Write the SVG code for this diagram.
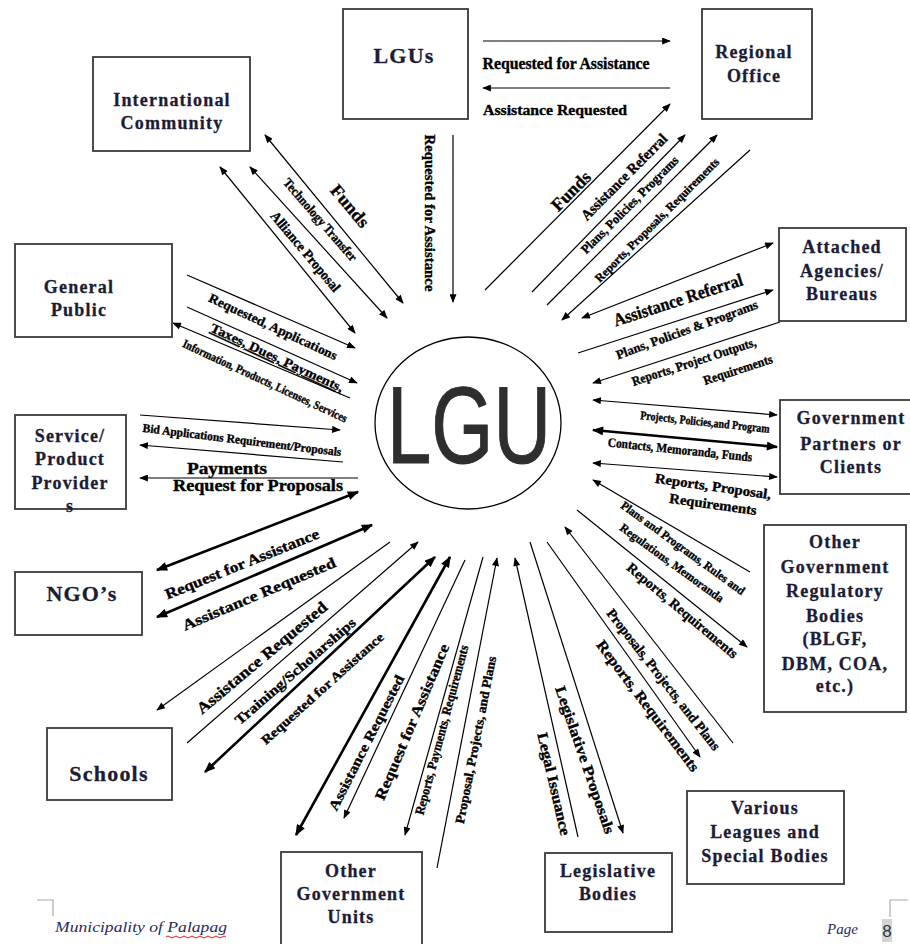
<svg xmlns="http://www.w3.org/2000/svg" width="910" height="944" viewBox="0 0 910 944">
<style>
.box{fill:#fff;stroke:#3a3a3a;stroke-width:1.8}
.bt{font-family:"Liberation Serif",serif;font-weight:bold;font-size:18px;fill:#1c1c36;stroke:#1c1c36;stroke-width:0.3;text-anchor:middle;letter-spacing:1.2px}
.big{font-size:22px}
.ln{stroke:#000;stroke-width:1.2;fill:none}
.tk{stroke:#000;stroke-width:2.6;fill:none}
.lb{font-family:"Liberation Serif",serif;font-weight:bold;fill:#000;stroke:#000;stroke-width:0.35;text-anchor:middle}
.ft{font-family:"Liberation Serif",serif;font-style:italic;fill:#2a2a5c}
</style>
<defs>
<marker id="a" viewBox="0 0 10 8" refX="9" refY="4" markerWidth="10" markerHeight="7" markerUnits="userSpaceOnUse" orient="auto-start-reverse"><path d="M0,0L10,4L0,8z" fill="#000"/></marker>
<marker id="b" viewBox="0 0 10 8" refX="9" refY="4" markerWidth="12" markerHeight="9" markerUnits="userSpaceOnUse" orient="auto-start-reverse"><path d="M0,0L10,4L0,8z" fill="#000"/></marker>
</defs>
<rect width="910" height="944" fill="#fff"/>

<g id="connectors">
<line class="ln" x1="483" y1="41" x2="670" y2="41" marker-end="url(#a)"/>
<line class="ln" x1="670" y1="88" x2="483" y2="88" marker-end="url(#a)"/>
<line class="ln" x1="453" y1="135" x2="453" y2="302" marker-end="url(#a)"/>
<line class="ln" x1="265" y1="135" x2="403" y2="303" marker-start="url(#a)" marker-end="url(#a)"/>
<line class="ln" x1="250" y1="167" x2="387" y2="318" marker-start="url(#a)" marker-end="url(#a)"/>
<line class="ln" x1="220" y1="167" x2="355" y2="333" marker-start="url(#a)" marker-end="url(#a)"/>
<line class="ln" x1="187" y1="275" x2="355" y2="348" marker-end="url(#a)"/>
<line class="ln" x1="187" y1="307" x2="357" y2="383" marker-end="url(#a)"/>
<line class="ln" x1="350" y1="398" x2="173" y2="323" marker-end="url(#a)"/>
<line class="ln" x1="140" y1="415" x2="340" y2="430" marker-end="url(#a)"/>
<line class="ln" x1="343" y1="462" x2="140" y2="445" marker-end="url(#a)"/>
<line class="ln" x1="358" y1="478" x2="140" y2="478" marker-end="url(#a)" stroke-width="1.6"/>
<line class="tk" x1="157" y1="570" x2="358" y2="492" marker-start="url(#b)" marker-end="url(#b)"/>
<line class="tk" x1="157" y1="617" x2="372" y2="525" marker-start="url(#b)" marker-end="url(#b)"/>
<line class="ln" x1="390" y1="542" x2="157" y2="710" marker-end="url(#a)"/>
<line class="ln" x1="187" y1="743" x2="418" y2="542" marker-end="url(#a)"/>
<line class="tk" x1="205" y1="772" x2="435" y2="557" marker-start="url(#b)" marker-end="url(#b)"/>
<line class="tk" x1="450" y1="557" x2="296" y2="835" marker-start="url(#b)" marker-end="url(#b)"/>
<line class="ln" x1="465" y1="560" x2="344" y2="818" marker-end="url(#a)"/>
<line class="ln" x1="483" y1="557" x2="405" y2="835" marker-end="url(#a)"/>
<line class="ln" x1="437" y1="868" x2="497" y2="558" marker-end="url(#a)"/>
<line class="ln" x1="578" y1="837" x2="515" y2="558" marker-end="url(#a)"/>
<line class="ln" x1="530" y1="542" x2="623" y2="833" marker-end="url(#a)"/>
<line class="ln" x1="547" y1="542" x2="700" y2="757" marker-end="url(#a)"/>
<line class="ln" x1="733" y1="743" x2="565" y2="527" marker-end="url(#a)"/>
<line class="ln" x1="577" y1="510" x2="747" y2="647" marker-end="url(#a)"/>
<line class="ln" x1="750" y1="572" x2="593" y2="480" marker-end="url(#a)"/>
<line class="ln" x1="593" y1="463" x2="777" y2="477" marker-start="url(#a)" marker-end="url(#a)"/>
<line class="tk" x1="593" y1="430" x2="777" y2="447" marker-start="url(#b)" marker-end="url(#b)"/>
<line class="ln" x1="593" y1="400" x2="777" y2="415" marker-start="url(#a)" marker-end="url(#a)"/>
<line class="ln" x1="780" y1="322" x2="593" y2="383" marker-end="url(#a)"/>
<line class="ln" x1="578" y1="353" x2="773" y2="290" marker-end="url(#a)"/>
<line class="ln" x1="582" y1="318" x2="773" y2="243" marker-start="url(#a)" marker-end="url(#a)"/>
<line class="ln" x1="750" y1="150" x2="562" y2="320" marker-end="url(#a)"/>
<line class="ln" x1="547" y1="305" x2="717" y2="135" marker-end="url(#a)"/>
<line class="ln" x1="532" y1="292" x2="685" y2="135" marker-end="url(#a)"/>
<line class="ln" x1="485" y1="290" x2="670" y2="104" marker-end="url(#a)"/>
</g>

<g id="connector-labels">
<text class="lb" x="566" y="69" font-size="16" textLength="167" lengthAdjust="spacingAndGlyphs">Requested for Assistance</text>
<text class="lb" x="555" y="115" font-size="15" textLength="144" lengthAdjust="spacingAndGlyphs">Assistance Requested</text>
<text class="lb" transform="translate(430 213) rotate(90)" y="5" font-size="15" textLength="157" lengthAdjust="spacingAndGlyphs">Requested for Assistance</text>
<text class="lb" transform="translate(350 206) rotate(50)" y="6" font-size="18" textLength="50" lengthAdjust="spacingAndGlyphs">Funds</text>
<text class="lb" transform="translate(320 220) rotate(49)" y="4" font-size="13" textLength="105" lengthAdjust="spacingAndGlyphs">Technology Transfer</text>
<text class="lb" transform="translate(305 252) rotate(50)" y="4" font-size="14" textLength="100" lengthAdjust="spacingAndGlyphs">Alliance Proposal</text>
<text class="lb" transform="translate(273 327) rotate(25)" y="4" font-size="13" textLength="140" lengthAdjust="spacingAndGlyphs">Requested, Applications</text>
<text class="lb" transform="translate(277 358) rotate(25)" y="4" font-size="13" textLength="145" lengthAdjust="spacingAndGlyphs" text-decoration="underline">Taxes, Dues, Payments,</text>
<text class="lb" transform="translate(265 381) rotate(25)" y="4" font-size="12" textLength="180" lengthAdjust="spacingAndGlyphs">Information, Products, Licenses, Services</text>
<text class="lb" transform="translate(242 440) rotate(7)" y="4" font-size="12" textLength="200" lengthAdjust="spacingAndGlyphs">Bid Applications Requirement/Proposals</text>
<text class="lb" x="227" y="474" font-size="16" textLength="80" lengthAdjust="spacingAndGlyphs">Payments</text>
<text class="lb" x="258" y="491" font-size="16" textLength="170" lengthAdjust="spacingAndGlyphs">Request for Proposals</text>
<text class="lb" transform="translate(242 564) rotate(-22)" y="5" font-size="15" textLength="165" lengthAdjust="spacingAndGlyphs">Request for Assistance</text>
<text class="lb" transform="translate(259 594) rotate(-23)" y="5" font-size="15" textLength="165" lengthAdjust="spacingAndGlyphs">Assistance Requested</text>
<text class="lb" transform="translate(262 658) rotate(-40)" y="5" font-size="16" textLength="165" lengthAdjust="spacingAndGlyphs">Assistance Requested</text>
<text class="lb" transform="translate(295 671) rotate(-41)" y="5" font-size="14" textLength="155" lengthAdjust="spacingAndGlyphs">Training/Scholarships</text>
<text class="lb" transform="translate(322 688) rotate(-42)" y="5" font-size="13" textLength="160" lengthAdjust="spacingAndGlyphs">Requested for Assistance</text>
<text class="lb" transform="translate(367 743) rotate(-63)" y="4" font-size="14" textLength="150" lengthAdjust="spacingAndGlyphs">Assistance Requested</text>
<text class="lb" transform="translate(412 722) rotate(-67)" y="5" font-size="15" textLength="168" lengthAdjust="spacingAndGlyphs">Request for Assistance</text>
<text class="lb" transform="translate(442 730) rotate(-75)" y="4" font-size="13" textLength="175" lengthAdjust="spacingAndGlyphs">Reports, Payments, Requirements</text>
<text class="lb" transform="translate(476 740) rotate(-79)" y="4" font-size="13" textLength="170" lengthAdjust="spacingAndGlyphs">Proposal, Projects, and Plans</text>
<text class="lb" transform="translate(554 784) rotate(77)" y="5" font-size="15" textLength="105" lengthAdjust="spacingAndGlyphs">Legal Issuance</text>
<text class="lb" transform="translate(585 760) rotate(71)" y="5" font-size="15" textLength="155" lengthAdjust="spacingAndGlyphs">Legislative Proposals</text>
<text class="lb" transform="translate(663 680) rotate(52)" y="4" font-size="14" textLength="175" lengthAdjust="spacingAndGlyphs">Proposals, Projects, and Plans</text>
<text class="lb" transform="translate(648 706) rotate(53)" y="5" font-size="15" textLength="160" lengthAdjust="spacingAndGlyphs">Reports, Requirements</text>
<text class="lb" transform="translate(683 548) rotate(36)" y="4" font-size="12" textLength="150" lengthAdjust="spacingAndGlyphs">Plans and Programs, Rules and</text>
<text class="lb" transform="translate(672 563) rotate(36)" y="4" font-size="12" textLength="125" lengthAdjust="spacingAndGlyphs">Regulations, Memoranda</text>
<text class="lb" transform="translate(682 611) rotate(40)" y="4" font-size="14" textLength="140" lengthAdjust="spacingAndGlyphs">Reports, Requirements</text>
<text class="lb" transform="translate(705 422) rotate(6)" y="4" font-size="12" textLength="130" lengthAdjust="spacingAndGlyphs">Projects, Policies,and Program</text>
<text class="lb" transform="translate(680 450) rotate(6)" y="4" font-size="13" textLength="145" lengthAdjust="spacingAndGlyphs">Contacts, Memoranda, Funds</text>
<text class="lb" transform="translate(713 487) rotate(8)" y="4" font-size="14" textLength="117" lengthAdjust="spacingAndGlyphs">Reports, Proposal,</text>
<text class="lb" transform="translate(713 505) rotate(8)" y="4" font-size="14" textLength="88" lengthAdjust="spacingAndGlyphs">Requirements</text>
<text class="lb" transform="translate(678 300) rotate(-18)" y="6" font-size="18" textLength="135" lengthAdjust="spacingAndGlyphs">Assistance Referral</text>
<text class="lb" transform="translate(687 330) rotate(-20)" y="4" font-size="13" textLength="150" lengthAdjust="spacingAndGlyphs">Plans, Policies &amp; Programs</text>
<text class="lb" transform="translate(694 362) rotate(-18)" y="4" font-size="13" textLength="130" lengthAdjust="spacingAndGlyphs">Reports, Project Outputs,</text>
<text class="lb" transform="translate(738 370) rotate(-18)" y="4" font-size="13" textLength="72" lengthAdjust="spacingAndGlyphs">Requirements</text>
<text class="lb" transform="translate(571 191) rotate(-45)" y="6" font-size="18" textLength="48" lengthAdjust="spacingAndGlyphs">Funds</text>
<text class="lb" transform="translate(624 177) rotate(-45)" y="5" font-size="15" textLength="115" lengthAdjust="spacingAndGlyphs">Assistance Referral</text>
<text class="lb" transform="translate(630 205) rotate(-45)" y="4" font-size="13" textLength="132" lengthAdjust="spacingAndGlyphs">Plans, Policies, Programs</text>
<text class="lb" transform="translate(657 220) rotate(-45)" y="4" font-size="12" textLength="170" lengthAdjust="spacingAndGlyphs">Reports, Proposals, Requirements</text>
</g>

<g id="node-lgu">
<ellipse cx="468" cy="423" rx="93" ry="86" fill="#fff" stroke="#000" stroke-width="1.3"/>
<text x="469" y="463" font-family="Liberation Sans, sans-serif" font-size="109" fill="#2e2e2e" stroke="#2e2e2e" stroke-width="1" text-anchor="middle" textLength="164" lengthAdjust="spacingAndGlyphs">LGU</text>
</g>
<g id="node-lgus"><rect class="box" x="343" y="9" width="125" height="110"/><text class="bt big" x="404" y="63">LGUs</text></g>
<g id="node-regional"><rect class="box" x="702" y="9" width="110" height="110"/><text class="bt" x="754" y="58">Regional</text><text class="bt" x="754" y="82">Office</text></g>
<g id="node-intl"><rect class="box" x="93" y="57" width="157" height="94"/><text class="bt" x="172" y="106">International</text><text class="bt" x="172" y="129">Community</text></g>
<g id="node-public"><rect class="box" x="15" y="244" width="157" height="93"/><text class="bt" x="79" y="293">General</text><text class="bt" x="79" y="316">Public</text></g>
<g id="node-providers"><rect class="box" x="15" y="415" width="111" height="94"/><text class="bt" x="70" y="442">Service/</text><text class="bt" x="70" y="465">Product</text><text class="bt" x="70" y="489">Provider</text><text class="bt" x="70" y="512">s</text></g>
<g id="node-ngo"><rect class="box" x="15" y="572" width="127" height="63"/><text class="bt big" x="82" y="601">NGO’s</text></g>
<g id="node-schools"><rect class="box" x="47" y="728" width="125" height="72"/><text class="bt big" x="109" y="781">Schools</text></g>
<g id="node-ogu"><rect class="box" x="281" y="852" width="141" height="100"/><text class="bt" x="351" y="877">Other</text><text class="bt" x="351" y="900">Government</text><text class="bt" x="351" y="923">Units</text></g>
<g id="node-legislative"><rect class="box" x="545" y="853" width="127" height="79"/><text class="bt" x="608" y="877">Legislative</text><text class="bt" x="608" y="900">Bodies</text></g>
<g id="node-leagues"><rect class="box" x="687" y="791" width="157" height="93"/><text class="bt" x="765" y="814">Various</text><text class="bt" x="765" y="838">Leagues and</text><text class="bt" x="765" y="862">Special Bodies</text></g>
<g id="node-regulatory"><rect class="box" x="764" y="525" width="142" height="187"/><text class="bt" x="835" y="548">Other</text><text class="bt" x="835" y="573">Government</text><text class="bt" x="835" y="597">Regulatory</text><text class="bt" x="835" y="622">Bodies</text><text class="bt" x="835" y="645">(BLGF,</text><text class="bt" x="835" y="670">DBM, COA,</text><text class="bt" x="835" y="692">etc.)</text></g>
<g id="node-partners"><rect class="box" x="780" y="400" width="136" height="94"/><text class="bt" x="851" y="424">Government</text><text class="bt" x="851" y="450">Partners or</text><text class="bt" x="851" y="473">Clients</text></g>
<g id="node-attached"><rect class="box" x="779" y="228" width="127" height="93"/><text class="bt" x="842" y="253">Attached</text><text class="bt" x="842" y="277">Agencies/</text><text class="bt" x="842" y="300">Bureaus</text></g>

<g id="footer">
<path d="M37,900H53V916" fill="none" stroke="#aaa" stroke-width="1.2"/>
<path d="M908,900H890V917" fill="none" stroke="#aaa" stroke-width="1.2"/>
<text class="ft" x="55" y="932" font-size="15" textLength="172" lengthAdjust="spacingAndGlyphs">Municipality of Palapag</text>
<path d="M166,937 q2,-2 4,0 t4,0 t4,0 t4,0 t4,0 t4,0 t4,0 t4,0 t4,0 t4,0 t4,0 t4,0 t4,0 t4,0 t4,0" fill="none" stroke="#e02020" stroke-width="1"/>
<text class="ft" x="827" y="934" font-size="15">Page</text>
<rect x="882" y="919" width="10" height="23" fill="#d4d4d4"/>
<text x="887" y="937" font-family="Liberation Sans, sans-serif" font-size="17" fill="#333" text-anchor="middle">8</text>
</g>
</svg>
